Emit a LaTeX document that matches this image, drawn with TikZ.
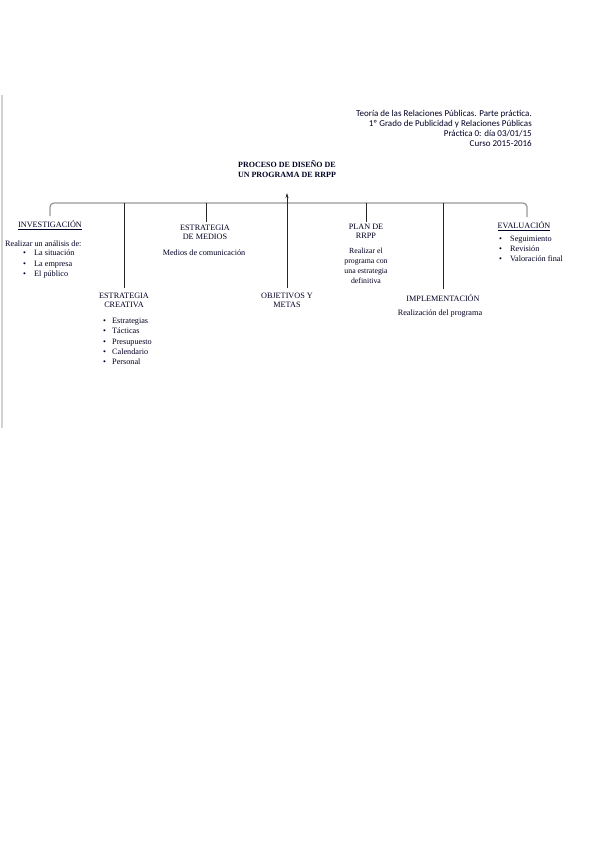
\documentclass[tikz,border=0pt]{standalone}
\usepackage{fontspec}
\setmainfont{Liberation Serif}
\newfontfamily\hdrfont{Carlito}
\usetikzlibrary{arrows.meta}
\begin{document}
\begin{tikzpicture}[x=1pt,y=-1pt,
  txt/.style={inner sep=0pt,font=\fontsize{8.2}{9.6}\selectfont,text=black!85!blue},
  head/.style={txt,align=center},
  lst/.style={txt,align=left,font=\fontsize{8.2}{10.3}\selectfont},
  vline/.style={black!85,line width=0.8pt},
  bar/.style={black!40,line width=1.3pt,rounded corners=4pt}]
\useasboundingbox[fill=white] (0,0) rectangle (599,848);
% left margin line
\draw[black!18,line width=1.5pt] (2,95) -- (2,428);
% header
\node[inner sep=0pt,anchor=north east,align=right,font=\hdrfont\fontsize{9}{9.8}\selectfont,text=black!85!blue] (hdr) at (532,110.5)
 {Teoría de las Relaciones Públicas. Parte práctica.\\1º Grado de Publicidad y Relaciones Públicas\\Práctica 0: día 03/01/15\\Curso 2015-2016};
% title
\node[head,anchor=north,font=\bfseries\fontsize{8}{10}\selectfont] (title) at (287,160)
 {PROCESO DE DISEÑO DE\\UN PROGRAMA DE RRPP};
\coordinate (tip) at (287,193);
% branches
\node[txt] (inv) at (50,225) {\underline{INVESTIGACIÓN}};
\node[txt,anchor=west] (invd) at (5,244) {Realizar un análisis de:};
\node[lst,anchor=north west] (invl) at (23,250)
 {\makebox[11pt][l]{\textbullet}La situación\\\makebox[11pt][l]{\textbullet}La empresa\\\makebox[11pt][l]{\textbullet}El público};
\node[head,anchor=north] (cre) at (124,292.5) {ESTRATEGIA\\CREATIVA};
\node[lst,anchor=north west] (crel) at (103,318)
 {\makebox[9pt][l]{\textbullet}Estrategias\\\makebox[9pt][l]{\textbullet}Tácticas\\\makebox[9pt][l]{\textbullet}Presupuesto\\\makebox[9pt][l]{\textbullet}Calendario\\\makebox[9pt][l]{\textbullet}Personal};
\node[head,anchor=north] (med) at (205,224.5) {ESTRATEGIA\\DE MEDIOS};
\node[txt] (medd) at (204,253) {Medios de comunicación};
\node[head,anchor=north] (obj) at (287,292.5) {OBJETIVOS Y\\METAS};
\node[head,anchor=north] (plan) at (366,223.5) {PLAN DE\\RRPP};
\node[head,anchor=north,font=\fontsize{7.8}{10}\selectfont] (pland) at (366,247.5)
 {Realizar el\\programa con\\una estrategia\\definitiva};
\node[txt] (imp) at (443,298) {IMPLEMENTACIÓN};
\node[txt] (impd) at (440,314) {Realización del programa};
\node[txt] (eva) at (524,226) {\underline{EVALUACIÓN}};
\node[lst,anchor=north west,font=\fontsize{8.2}{10}\selectfont] (eval) at (499,235.5)
 {\makebox[11pt][l]{\textbullet}Seguimiento\\\makebox[11pt][l]{\textbullet}Revisión\\\makebox[11pt][l]{\textbullet}Valoración final};
% bar
\coordinate (b1) at (50,203);
\coordinate (b2) at (527,203);
\draw[bar] ([yshift=4pt]inv.north) -- (b1) -- (b2) -- ([xshift=3pt,yshift=4pt]eva.north);
% verticals
\draw[vline] (124,203) -- ([yshift=5pt]cre.north);
\draw[vline] (206,203) -- ([xshift=1pt,yshift=3pt]med.north);
\draw[vline] (366,203) -- ([yshift=2pt]plan.north);
\draw[vline] (443,203) -- ([yshift=5pt]imp.north);
\draw[vline,-{Stealth[length=5pt,width=3pt]}] ([yshift=5pt]obj.north) -- (tip);
\end{tikzpicture}
\end{document}
